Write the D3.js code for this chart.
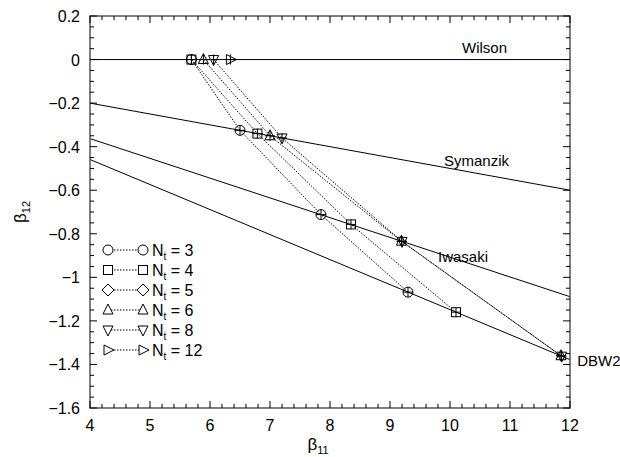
<!DOCTYPE html>
<html><head><meta charset="utf-8">
<script src="https://cdn.jsdelivr.net/npm/d3@7"></script>
<style>body{margin:0;background:#fff} text{font-family:"Liberation Sans",Arial,Helvetica,sans-serif;fill:#000}</style>
</head><body><svg id="c" width="620" height="457"></svg>
<script>
// ---- data ----
const actionNames = ["Wilson", "Symanzik", "Iwasaki", "DBW2"];
const actionLineX = [4, 12];
const wilsonLineY = [0, 0];
const symanzikLineY = [-0.2, -0.6];
const iwasakiLineY = [-0.363, -1.089];
const dbw2LineY = [-0.459, -1.378];
const labelX = [10.2, 9.9, 9.8, 12.12];
const labelY = [0.03, -0.49, -0.93, -1.405];

const ntValues = [3, 4, 5, 6, 8, 12];
const nt3X = [5.69, 6.50, 7.85, 9.30];  const nt3Y = [0, -0.325, -0.712, -1.068];
const nt4X = [5.69, 6.79, 8.35, 10.10]; const nt4Y = [0, -0.340, -0.757, -1.160];
const nt5X = [];                        const nt5Y = [];
const nt6X = [5.89, 7.00, 9.19, 11.85]; const nt6Y = [0, -0.350, -0.834, -1.360];
const nt8X = [6.06, 7.20, 9.20, 11.86]; const nt8Y = [0, -0.360, -0.835, -1.362];
const nt12X = [6.34];                   const nt12Y = [0];

const xTicks = [4, 5, 6, 7, 8, 9, 10, 11, 12];
const yTicks = [0.2, 0, -0.2, -0.4, -0.6, -0.8, -1, -1.2, -1.4, -1.6];

// ---- layout ----
const L = 90, R = 570, T = 16, B = 408;
const x = d3.scaleLinear().domain([4, 12]).range([L, R]);
const y = d3.scaleLinear().domain([-1.6, 0.2]).range([B, T]);
const svg = d3.select("#c");

const lineData = [wilsonLineY, symanzikLineY, iwasakiLineY, dbw2LineY];
lineData.forEach(ly => {
  svg.append("line").attr("x1", x(actionLineX[0])).attr("x2", x(actionLineX[1]))
    .attr("y1", y(ly[0])).attr("y2", y(ly[1])).attr("stroke", "#000").attr("stroke-width", 1);
});
actionNames.forEach((n, i) => {
  svg.append("text").attr("x", x(labelX[i])).attr("y", y(labelY[i])).attr("font-size", 15).text(n);
});

const sz = 5;
function sym(g, type, cx, cy) {
  const s = g.append("g").attr("transform", `translate(${cx},${cy})`)
    .attr("fill", "none").attr("stroke", "#000").attr("stroke-width", 1);
  if (type === 0) s.append("circle").attr("r", sz);
  else if (type === 1) s.append("rect").attr("x", -sz + 0.5).attr("y", -sz + 0.5).attr("width", 2 * sz - 1).attr("height", 2 * sz - 1);
  else if (type === 2) s.append("path").attr("d", `M0,${-sz - 1}L${sz + 1},0L0,${sz + 1}L${-sz - 1},0Z`);
  else if (type === 3) s.append("path").attr("d", `M0,${-sz - 1}L${sz},${sz - 1}L${-sz},${sz - 1}Z`);
  else if (type === 4) s.append("path").attr("d", `M0,${sz + 1}L${sz},${-sz + 1}L${-sz},${-sz + 1}Z`);
  else s.append("path").attr("d", `M${sz + 1},0L${-sz + 1},${sz}L${-sz + 1},${-sz}Z`);
  return s;
}
const series = [[nt3X, nt3Y], [nt4X, nt4Y], [nt5X, nt5Y], [nt6X, nt6Y], [nt8X, nt8Y], [nt12X, nt12Y]];
const gl = svg.append("g");
series.forEach(([sx, sy]) => {
  const pts = sx.map((v, i) => [x(v), y(sy[i])]);
  if (pts.length > 1)
    gl.append("path").attr("d", d3.line()(pts)).attr("fill", "none").attr("stroke", "#000")
      .attr("stroke-width", 1).attr("stroke-dasharray", "1.5,1.5");
});
series.forEach(([sx, sy], k) => {
  sx.forEach((v, i) => {
    const s = sym(svg, k, x(v), y(sy[i]));
    s.append("path").attr("d", `M${-sz},0H${sz}M0,${-sz}V${sz}`);
  });
});

// frame and ticks
svg.append("rect").attr("x", L).attr("y", T).attr("width", R - L).attr("height", B - T)
  .attr("fill", "none").attr("stroke", "#555").attr("stroke-width", 1.5);
const tk = svg.append("g").attr("stroke", "#000").attr("stroke-width", 1);
d3.range(4, 12.001, 0.2).forEach(v => {
  const major = Math.abs(v - Math.round(v)) < 1e-6;
  const len = major ? 7 : 4;
  tk.append("line").attr("x1", x(v)).attr("x2", x(v)).attr("y1", B).attr("y2", B - len);
  tk.append("line").attr("x1", x(v)).attr("x2", x(v)).attr("y1", T).attr("y2", T + len);
});
d3.range(-1.6, 0.2001, 0.05).forEach(v => {
  const major = Math.abs(v * 5 - Math.round(v * 5)) < 1e-6;
  const len = major ? 7 : 4;
  tk.append("line").attr("y1", y(v)).attr("y2", y(v)).attr("x1", L).attr("x2", L + len);
  tk.append("line").attr("y1", y(v)).attr("y2", y(v)).attr("x1", R).attr("x2", R - len);
});
xTicks.forEach(v => svg.append("text").attr("x", x(v)).attr("y", B + 23).attr("text-anchor", "middle").attr("font-size", 16).text(v));
yTicks.forEach(v => svg.append("text").attr("x", L - 10).attr("y", y(v) + 6).attr("text-anchor", "end").attr("font-size", 16).text(v === 0 ? "0" : d3.format(".1f")(v).replace(".0", "")));

// axis titles
const xt = svg.append("text").attr("x", 318).attr("y", 450).attr("text-anchor", "middle").attr("font-size", 17);
xt.append("tspan").text("β");
xt.append("tspan").attr("font-size", 11).attr("dy", 4).text("11");
const yt = svg.append("text").attr("transform", `translate(26,${y(-0.7)}) rotate(-90)`).attr("text-anchor", "middle").attr("font-size", 17);
yt.append("tspan").text("β");
yt.append("tspan").attr("font-size", 11).attr("dy", 4).text("12");

// legend
const legY0 = 250, legDy = 20, legX1 = 108, legX2 = 143;
ntValues.forEach((n, k) => {
  const ly = legY0 + k * legDy;
  svg.append("line").attr("x1", legX1).attr("x2", legX2).attr("y1", ly).attr("y2", ly)
    .attr("stroke", "#000").attr("stroke-dasharray", "1.5,1.5");
  sym(svg, k, legX1, ly).select("*").attr("fill", "#fff");
  sym(svg, k, legX2, ly).select("*").attr("fill", "#fff");
  const t = svg.append("text").attr("x", legX2 + 9).attr("y", ly + 6).attr("font-size", 16);
  t.append("tspan").text("N");
  t.append("tspan").attr("font-size", 10).attr("dy", 4).text("t");
  t.append("tspan").attr("dy", -4).text(" = " + n);
});
</script></body></html>
